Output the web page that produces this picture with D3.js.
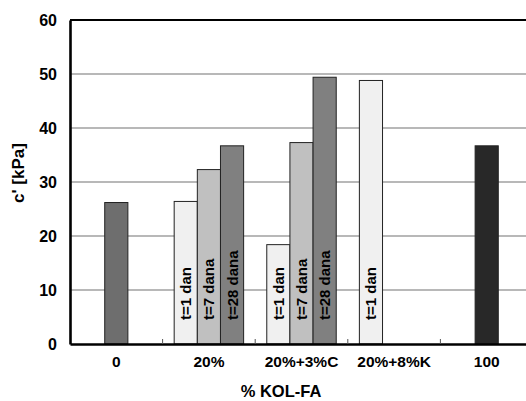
<!DOCTYPE html>
<html><head><meta charset="utf-8">
<script src="https://cdn.jsdelivr.net/npm/d3@7"></script>
<style>body{margin:0;background:#fff}svg{display:block;font-family:"Liberation Sans",Arial,sans-serif;font-weight:bold}svg text{font-family:"Liberation Sans",Arial,sans-serif;font-weight:bold}</style>
</head><body><svg id="c" width="526" height="401"></svg>
<script>
const categories = ["0", "20%", "20%+3%C", "20%+8%K", "100"];
const seriesNames = ["t=1 dan", "t=7 dana", "t=28 dana"];
const t1 = [null, 26.4, 18.4, 48.8, null];
const t7 = [26.2, 32.3, 37.3, null, 36.7];
const t28 = [null, 36.7, 49.4, null, null];
const yTicks = [0, 10, 20, 30, 40, 50, 60];
const labelledCats = ["20%", "20%+3%C", "20%+8%K"];

const seriesColors = {"t=1 dan": "#f0f0f0", "t=7 dana": "#c0c0c0", "t=28 dana": "#808080"};
const singleColors = {"0": "#6e6e6e", "100": "#282828"};

const svg = d3.select("#c");
const m = {l: 70, t: 20, r: 533, b: 344};
const x = d3.scaleBand().domain(categories).range([m.l, m.r]).padding(0);
const xs = d3.scaleBand().domain(seriesNames).range([0, x.bandwidth()]).paddingInner(0).paddingOuter(0.5);
const y = d3.scaleLinear().domain([0, 60]).range([m.b, m.t]);

// gridlines
svg.append("g").selectAll("line").data(yTicks.filter(d => d > 0 && d < 60)).join("line")
  .attr("x1", m.l).attr("x2", m.r).attr("y1", d => y(d)).attr("y2", d => y(d))
  .attr("stroke", "#a0a0a0").attr("stroke-width", 1.3);

const data = [];
const sv = [t1, t7, t28];
categories.forEach((c, i) => seriesNames.forEach((s, j) => {
  if (sv[j][i] != null) data.push({c, s, v: sv[j][i]});
}));

const bars = svg.append("g");
bars.selectAll("rect").data(data).join("rect")
  .attr("x", d => x(d.c) + xs(d.s)).attr("width", xs.bandwidth())
  .attr("y", d => y(d.v)).attr("height", d => y(0) - y(d.v))
  .attr("fill", d => singleColors[d.c] || seriesColors[d.s])
  .attr("stroke", "#222").attr("stroke-width", 1);

bars.selectAll("text").data(data.filter(d => labelledCats.includes(d.c))).join("text")
  .attr("transform", d => `translate(${x(d.c) + xs(d.s) + xs.bandwidth() / 2 + 5.5},${y(0) - 24}) rotate(-90)`)
  .attr("font-size", 15).attr("fill", "#000").text(d => d.s);

// top border
svg.append("line").attr("x1", m.l).attr("x2", m.r).attr("y1", m.t).attr("y2", m.t)
  .attr("stroke", "#000").attr("stroke-width", 2.2);

// y axis
const ya = svg.append("g").attr("transform", `translate(${m.l},0)`)
  .call(d3.axisLeft(y).tickValues(yTicks).tickSize(0).tickPadding(13));
ya.attr("font-family", null).attr("font-size", null);
ya.select(".domain").attr("stroke", "#000").attr("stroke-width", 2.6);
ya.selectAll("text").attr("font-size", 16).attr("fill", "#000").attr("dy", "0.35em");

// x axis
const xa = svg.append("g").attr("transform", `translate(0,${m.b})`)
  .call(d3.axisBottom(x).tickSize(0).tickPadding(12));
xa.attr("font-family", null).attr("font-size", null);
xa.select(".domain").attr("stroke", "#000").attr("stroke-width", 2.6);
xa.selectAll("text").attr("font-size", 15.5).attr("fill", "#000");
// inward category boundary ticks
svg.append("g").selectAll("line").data(categories.slice(1)).join("line")
  .attr("x1", d => x(d)).attr("x2", d => x(d)).attr("y1", m.b).attr("y2", m.b - 5)
  .attr("stroke", "#555").attr("stroke-width", 1);

// titles
svg.append("text").attr("x", 281).attr("y", 396.5).attr("text-anchor", "middle")
  .attr("font-size", 16.5).text("% KOL-FA");
svg.append("text").attr("transform", `translate(24,173) rotate(-90)`).attr("text-anchor", "middle")
  .attr("font-size", 17).text("c' [kPa]");
</script></body></html>
